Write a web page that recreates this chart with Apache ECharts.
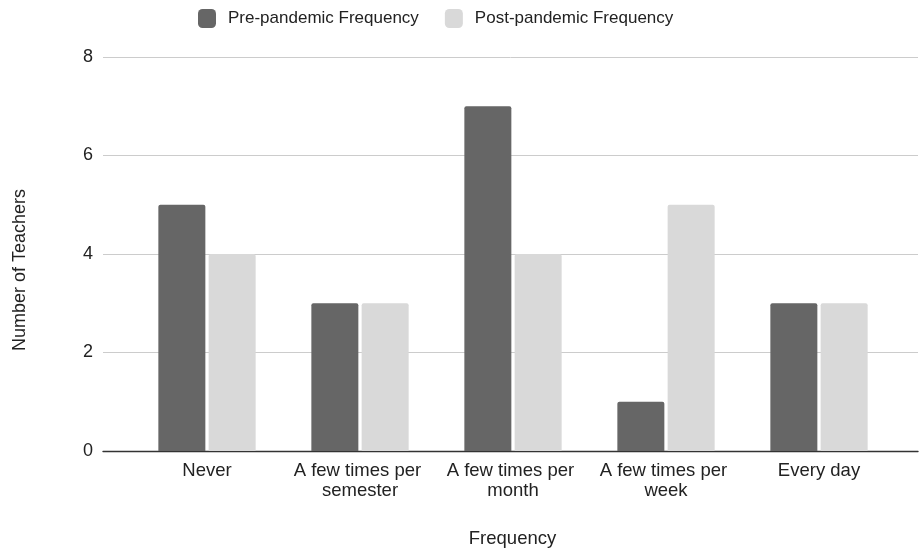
<!DOCTYPE html>
<html>
<head>
<meta charset="utf-8">
<script src="https://cdn.jsdelivr.net/npm/echarts@6/dist/echarts.min.js"></script>
<style>
  html, body { margin: 0; padding: 0; background: #fff; }
  #chart { width: 919px; height: 552px; }
</style>
</head>
<body>
<div id="chart"></div>
<script>
// Teacher survey: how often a practice was used before and after the pandemic
const categories = ['Never', 'A few times per semester', 'A few times per month', 'A few times per week', 'Every day'];
const preFrequency = [5, 3, 7, 1, 3];
const postFrequency = [4, 3, 4, 5, 3];
const seriesNames = ['Pre-pandemic Frequency', 'Post-pandemic Frequency'];
const yTicks = { min: 0, max: 8, interval: 2 };

const FONT = '"Liberation Sans", Arial, sans-serif';
const TEXT = '#222';
const chart = echarts.init(document.getElementById('chart'));

chart.setOption({
  animation: false,
  textStyle: { fontFamily: FONT },
  legend: {
    top: 4,
    left: 193,
    itemWidth: 18,
    itemHeight: 19,
    itemGap: 26,
    textStyle: { fontSize: 17, color: TEXT, fontFamily: FONT, padding: [0, 0, 0, 7] },
    data: [
      { name: seriesNames[0], itemStyle: { color: '#666666', borderRadius: 2 } },
      { name: seriesNames[1], itemStyle: { color: '#d9d9d9', borderRadius: 2 } }
    ]
  },
  grid: [
    // full-width frame for gridlines, value labels and baseline
    { left: 103, right: 1, top: 57, bottom: 101, outerBoundsMode: 'none', containLabel: false },
    // inner band where the category bars are laid out
    { left: 130.5, right: 23.5, top: 57, bottom: 101, outerBoundsMode: 'none', containLabel: false }
  ],
  xAxis: [
    {
      gridIndex: 0, type: 'category', data: categories,
      axisLine: { show: true, lineStyle: { color: '#333', width: 1.4 } },
      axisTick: { show: false }, axisLabel: { show: false }, splitLine: { show: false },
      name: 'Frequency', nameLocation: 'middle', nameGap: 78,
      nameTextStyle: { fontSize: 18.5, color: TEXT, fontFamily: FONT, padding: [0, 0, 0, 4] }
    },
    {
      gridIndex: 1, type: 'category', data: categories,
      axisLine: { show: false }, axisTick: { show: false },
      axisLabel: {
        fontSize: 18.5, color: TEXT, margin: 10, lineHeight: 20,
        width: 140, overflow: 'break', interval: 0, fontFamily: FONT
      }
    }
  ],
  yAxis: [
    {
      gridIndex: 0, type: 'value', min: yTicks.min, max: yTicks.max, interval: yTicks.interval,
      axisLine: { show: false }, axisTick: { show: false },
      axisLabel: { fontSize: 18, color: TEXT, margin: 10, fontFamily: FONT },
      splitLine: { lineStyle: { color: '#cccccc', width: 1 } },
      name: 'Number of Teachers', nameLocation: 'middle', nameGap: 74,
      nameTextStyle: { fontSize: 18, color: TEXT, fontFamily: FONT, padding: [0, 32, 0, 0] }
    },
    {
      gridIndex: 1, type: 'value', min: yTicks.min, max: yTicks.max, interval: yTicks.interval,
      show: false
    }
  ],
  series: [
    {
      name: seriesNames[0], type: 'bar', xAxisIndex: 1, yAxisIndex: 1,
      data: preFrequency, barWidth: 47, barGap: '7%',
      itemStyle: { color: '#666666', borderRadius: [2, 2, 0, 0] }
    },
    {
      name: seriesNames[1], type: 'bar', xAxisIndex: 1, yAxisIndex: 1,
      data: postFrequency, barWidth: 47, barGap: '7%',
      itemStyle: { color: '#d9d9d9', borderRadius: [2, 2, 0, 0] }
    }
  ]
});
</script>
</body>
</html>
